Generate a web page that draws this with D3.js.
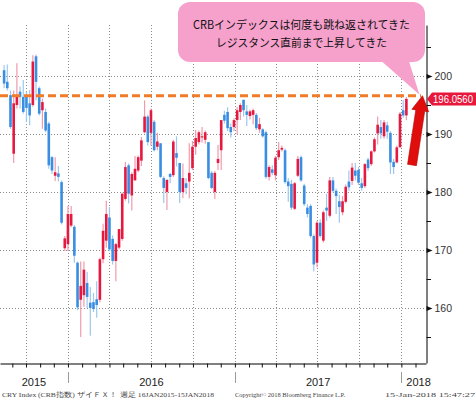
<!DOCTYPE html>
<html>
<head>
<meta charset="utf-8">
<script src="https://cdn.jsdelivr.net/npm/d3@7"></script>
<style>
  body { margin: 0; background: #fff; }
  svg { display: block; font-family: "Liberation Sans", Arial, sans-serif; }
</style>
</head>
<body>
<svg id="chart" width="476" height="399"></svg>
<script>
/* weekly CRB bars, first bar = week of 14 Aug 2015 */
var firstWeek = new Date(2015, 7, 14);

// [open, high, low, close]
var ohlc = [
  [201.0,201.9,197.9,198.7],[199.0,202.0,197.5,197.9],[196.7,197.5,190.9,191.2],[186.6,197.5,185.0,195.3],
  [195.0,202.2,194.4,196.7],[197.3,198.2,194.4,196.4],[196.4,199.3,193.5,193.8],[196.5,197.3,192.1,194.5],
  [195.3,197.6,191.5,193.2],[195.0,203.6,194.7,202.5],[203.4,203.7,195.8,199.0],[197.9,198.2,193.2,193.5],
  [194.1,196.1,190.9,195.5],[193.8,194.4,190.3,190.6],[191.8,192.1,184.0,184.6],[186.0,186.2,183.1,183.7],
  [182.8,186.0,181.9,183.4],[183.2,184.5,181.8,182.6],[181.7,182.0,174.4,174.7],[170.3,172.4,169.8,172.0],
  [171.0,177.6,169.8,176.2],[174.2,177.6,173.9,176.2],[174.0,174.3,167.8,169.0],[167.8,168.0,159.6,160.1],
  [161.4,168.0,155.0,163.8],[162.2,168.0,160.2,166.6],[164.3,166.2,160.0,161.9],[160.9,163.6,155.2,160.0],
  [161.0,162.6,159.3,159.8],[161.5,164.6,158.3,160.5],[161.4,168.7,161.0,168.4],[168.4,174.5,167.7,173.3],
  [171.6,178.5,170.4,176.2],[175.6,177.4,169.8,170.1],[171.9,172.5,167.5,168.1],[168.1,171.2,164.6,171.0],
  [170.4,173.6,170.1,173.6],[171.9,179.9,171.6,179.7],[178.8,185.2,178.5,184.3],[184.6,184.9,178.0,179.7],
  [179.4,183.4,176.8,183.1],[182.0,186.2,182.0,184.0],[183.7,186.3,183.4,186.0],[185.4,189.5,184.5,188.9],
  [190.3,195.8,190.1,193.0],[193.0,193.3,188.0,188.6],[190.2,194.4,188.0,194.1],[192.1,192.4,187.0,187.2],
  [187.8,190.2,187.2,188.7],[188.4,188.4,182.4,182.6],[182.4,182.7,178.1,180.7],[180.0,182.1,176.9,182.1],
  [183.1,183.3,181.5,182.6],[182.9,189.0,182.6,188.7],[186.7,189.6,184.4,185.9],[185.0,185.0,178.1,180.0],
  [180.0,184.9,178.9,182.4],[181.5,182.4,179.6,180.7],[181.8,188.4,178.9,183.3],[184.1,188.8,183.8,187.8],
  [187.8,190.7,186.4,189.3],[188.6,190.6,188.2,190.3],[189.4,191.2,188.5,189.6],[189.0,190.6,188.3,190.3],
  [188.6,188.6,182.2,182.4],[183.3,183.6,180.5,180.7],[180.0,183.6,178.8,183.3],[185.0,188.1,183.8,185.7],
  [187.2,192.4,183.8,192.4],[193.3,194.0,191.8,192.3],[193.8,194.6,190.5,191.0],[191.2,191.8,189.4,190.3],
  [191.2,192.7,190.5,192.4],[192.4,194.6,189.9,194.1],[193.8,195.3,192.4,195.0],[195.9,195.9,193.0,194.1],
  [193.9,195.0,191.4,193.3],[193.1,194.2,192.5,193.9],[193.3,194.4,191.7,194.1],[193.3,193.6,190.7,191.0],
  [190.8,192.8,190.2,191.7],[190.8,191.0,189.4,189.6],[190.3,190.6,182.3,182.6],[182.6,184.6,182.0,184.3],
  [183.9,184.6,182.9,183.3],[182.9,186.2,182.0,185.9],[186.0,188.6,185.5,187.2],[187.3,188.0,187.0,187.6],
  [187.2,187.5,181.4,181.7],[181.8,182.4,178.3,181.0],[181.4,182.1,176.9,177.3],[177.1,181.7,176.9,181.5],
  [182.8,186.2,182.6,185.7],[186.0,186.3,181.7,182.0],[181.1,181.4,177.6,177.9],[177.3,177.9,175.6,176.2],
  [177.6,177.9,172.1,172.4],[172.4,172.7,166.3,167.5],[167.8,175.0,167.0,174.7],[174.7,175.3,172.1,172.4],
  [171.6,176.8,171.3,176.5],[177.3,179.7,175.0,176.8],[175.9,182.6,175.6,182.0],[182.0,182.6,179.9,180.2],
  [180.2,180.6,176.2,179.3],[178.4,179.5,174.7,177.4],[176.5,179.3,176.0,178.4],[178.3,181.3,178.0,180.9],
  [181.8,183.7,180.2,180.8],[181.9,185.0,181.2,184.2],[183.7,185.0,182.0,182.8],[183.8,184.3,181.2,181.6],
  [181.5,182.4,180.2,180.7],[181.0,185.0,180.7,184.8],[185.6,185.9,183.6,184.1],[184.8,187.2,184.5,187.0],
  [187.0,189.4,186.8,189.1],[190.1,193.0,188.2,191.6],[191.2,192.4,189.2,190.1],[189.6,192.4,189.2,192.0],
  [191.5,192.1,189.2,190.4],[190.2,190.5,183.1,185.1],[185.2,185.7,183.1,184.3],[185.1,188.0,184.9,187.7],
  [187.7,193.8,187.7,193.5],[194.1,195.8,192.8,193.2],[193.2,196.4,192.4,196.056]
];

var yTicks = [160, 170, 180, 190, 200];
var yMinorTicks = [155, 165, 175, 185, 195, 205];
var resistance = 196.6;
var lastPrice = 196.0560;
var noteLines = ["CRBインデックスは何度も跳ね返されてきた", "レジスタンス直前まで上昇してきた"];
var footerTexts = ["CRY Index (CRB指数) ザイＦＸ！ 週足 16JAN2015-15JAN2018",
                   "Copyright© 2018 Bloomberg Finance L.P.",
                   "15-Jan-2018 15:47:27"];

/* settings */
var width = 476, height = 399,
    plot = { left: 0, right: 426, top: 25, bottom: 363 },
    upBody = "#e5193f", upWick = "#f29aac",
    downBody = "#3a8ee2", downWick = "#9cc7f2",
    gridColor = "#8c8c8c";

var svg = d3.select("#chart");

var bars = ohlc.map(function(d, i) {
  return { date: d3.timeDay.offset(firstWeek, 7 * i), o: d[0], h: d[1], l: d[2], c: d[3] };
});

var x = d3.scaleTime()
  .domain([new Date(2015, 7, 5), new Date(2018, 1, 24)])
  .range([plot.left, plot.right]);

var y = d3.scaleLinear()
  .domain([150.5, 208.8])
  .range([plot.bottom, plot.top]);

/* grid */
var quarters = d3.timeMonth.every(3).range(x.domain()[0], x.domain()[1]);
svg.append("g").selectAll("line").data(quarters).enter().append("line")
  .attr("x1", function(d) { return Math.round(x(d)) + 0.5; })
  .attr("x2", function(d) { return Math.round(x(d)) + 0.5; })
  .attr("y1", plot.top).attr("y2", plot.bottom)
  .attr("stroke", gridColor).attr("stroke-dasharray", "1,2");

svg.append("g").selectAll("line").data(yTicks).enter().append("line")
  .attr("x1", plot.left).attr("x2", plot.right)
  .attr("y1", function(d) { return Math.round(y(d)) + 0.5; })
  .attr("y2", function(d) { return Math.round(y(d)) + 0.5; })
  .attr("stroke", gridColor).attr("stroke-dasharray", "1,2");

/* candles */
var candle = svg.append("g").selectAll("g").data(bars).enter().append("g");

candle.append("line")
  .attr("x1", function(d) { return x(d.date); })
  .attr("x2", function(d) { return x(d.date); })
  .attr("y1", function(d) { return y(d.h); })
  .attr("y2", function(d) { return y(d.l); })
  .attr("stroke", function(d) { return d.c >= d.o ? upWick : downWick; })
  .attr("stroke-width", 1.2);

candle.append("rect")
  .attr("x", function(d) { return x(d.date) - 1.3; })
  .attr("width", 2.6)
  .attr("y", function(d) { return y(Math.max(d.o, d.c)); })
  .attr("height", function(d) { return Math.max(1, Math.abs(y(d.o) - y(d.c))); })
  .attr("fill", function(d) { return d.c >= d.o ? upBody : downBody; });

/* resistance line */
svg.append("line")
  .attr("x1", plot.left).attr("x2", 421)
  .attr("y1", y(resistance)).attr("y2", y(resistance))
  .attr("stroke", "#f07b28").attr("stroke-width", 3)
  .attr("stroke-dasharray", "8,4");

/* right axis */
var yAxis = d3.axisRight(y).tickValues(yTicks).tickSize(0).tickPadding(8).tickSizeOuter(0);
var yAxisG = svg.append("g")
  .attr("transform", "translate(" + (plot.right + 0.5) + ",0)")
  .call(yAxis);
yAxisG.select(".domain").attr("stroke", "#000");
yAxisG.selectAll(".tick text").attr("font-size", 10.5).attr("fill", "#333")
  .attr("font-family", "Liberation Sans, Arial, sans-serif");
yAxisG.selectAll(".tick").append("path")
  .attr("d", "M0,-2.5L6,0L0,2.5Z").attr("fill", "#111");

svg.append("g").selectAll("line").data(yMinorTicks).enter().append("line")
  .attr("x1", plot.right + 0.5).attr("x2", plot.right + 5)
  .attr("y1", function(d) { return Math.round(y(d)) + 0.5; })
  .attr("y2", function(d) { return Math.round(y(d)) + 0.5; })
  .attr("stroke", "#111");

/* bottom axis: month ticks */
var xAxis = d3.axisBottom(x).ticks(d3.timeMonth.every(1)).tickSize(4).tickSizeOuter(0).tickFormat("");
var xAxisG = svg.append("g")
  .attr("transform", "translate(0," + (plot.bottom + 0.5) + ")")
  .call(xAxis);
xAxisG.select(".domain").attr("stroke", "#000");
xAxisG.selectAll(".tick line").attr("stroke", "#111");

// year dividers and labels
var yearStarts = d3.timeYear.range(x.domain()[0], x.domain()[1]);
svg.append("g").selectAll("line").data(yearStarts).enter().append("line")
  .attr("x1", function(d) { return Math.round(x(d)) + 0.5; })
  .attr("x2", function(d) { return Math.round(x(d)) + 0.5; })
  .attr("y1", 372).attr("y2", 383)
  .attr("stroke", "#9a9a9a");

function yearSpan(d) {
  var a = Math.max(x(d), plot.left), b = Math.min(x(d3.timeYear.offset(d, 1)), plot.right);
  return [a, b];
}
var years = [d3.timeYear.floor(x.domain()[0])].concat(yearStarts);
svg.append("g").selectAll("text").data(years).enter().append("text")
  .attr("x", function(d) {
    var s = yearSpan(d);
    return (s[1] - s[0]) < 40 ? s[0] + 5 : (s[0] + s[1]) / 2;
  })
  .attr("text-anchor", function(d) {
    var s = yearSpan(d);
    return (s[1] - s[0]) < 40 ? "start" : "middle";
  })
  .attr("y", 386)
  .attr("font-size", 11).attr("fill", "#222")
  .text(function(d) { return d.getFullYear(); });

/* footer */
var footerPos = [[2, 212], [235, 110], [385, 90]];
svg.append("g").selectAll("text").data(footerTexts).enter().append("text")
  .attr("x", function(d, i) { return footerPos[i][0]; })
  .attr("y", 397)
  .attr("textLength", function(d, i) { return footerPos[i][1]; })
  .attr("lengthAdjust", "spacingAndGlyphs")
  .attr("font-family", "Liberation Serif, serif")
  .attr("font-size", 6.5).attr("fill", "#444")
  .text(function(d) { return d; });

/* last price tag */
var tagY = y(lastPrice);
svg.append("path")
  .attr("d", "M" + (plot.right + 1) + "," + tagY + "L" + (plot.right + 6) + "," + (tagY - 6.5) +
             "H476V" + (tagY + 6.5) + "H" + (plot.right + 6) + "Z")
  .attr("fill", "#e8173c");
svg.append("text")
  .attr("x", plot.right + 7).attr("y", tagY + 4)
  .attr("font-size", 10.5).attr("fill", "#fff")
  .attr("textLength", 40).attr("lengthAdjust", "spacingAndGlyphs")
  .text(d3.format(".4f")(lastPrice));

/* red arrow */
var tail = [412, 165], tip = [422.5, y(resistance)];
var dx = tip[0] - tail[0], dy = tip[1] - tail[1], len = Math.sqrt(dx * dx + dy * dy);
var ux = dx / len, uy = dy / len, nx = -uy, ny = ux;
var shaftW = 4.5, headW = 8.5, headL = 15;
var hb = [tip[0] - ux * headL, tip[1] - uy * headL];
var arrowPts = [
  [tail[0] + nx * shaftW, tail[1] + ny * shaftW],
  [hb[0] + nx * shaftW, hb[1] + ny * shaftW],
  [hb[0] + nx * headW, hb[1] + ny * headW],
  tip,
  [hb[0] - nx * headW, hb[1] - ny * headW],
  [hb[0] - nx * shaftW, hb[1] - ny * shaftW],
  [tail[0] - nx * shaftW, tail[1] - ny * shaftW]
];
svg.append("path")
  .attr("d", d3.line()(arrowPts) + "Z")
  .attr("fill", "#e00d0d").attr("stroke", "#b80000").attr("stroke-width", 0.6);

/* callout */
var callout = svg.append("g");
callout.append("path")
  .attr("d", "M378,58L408,58L" + (tip[0] - 3) + "," + (y(resistance) - 1) + "Z")
  .attr("fill", "#f6a0cc");
callout.append("rect")
  .attr("x", 178).attr("y", 2).attr("width", 247).attr("height", 60).attr("rx", 12)
  .attr("fill", "#f6a0cc");
callout.selectAll("text").data(noteLines).enter().append("text")
  .attr("x", 301.5)
  .attr("y", function(d, i) { return 29 + i * 18; })
  .attr("text-anchor", "middle")
  .attr("font-family", "Noto Sans CJK JP, sans-serif")
  .attr("font-size", 11.5).attr("fill", "#111")
  .attr("textLength", function(d, i) { return i === 0 ? 217 : 171; })
  .attr("lengthAdjust", "spacingAndGlyphs")
  .text(function(d) { return d; });
</script>
</body>
</html>
